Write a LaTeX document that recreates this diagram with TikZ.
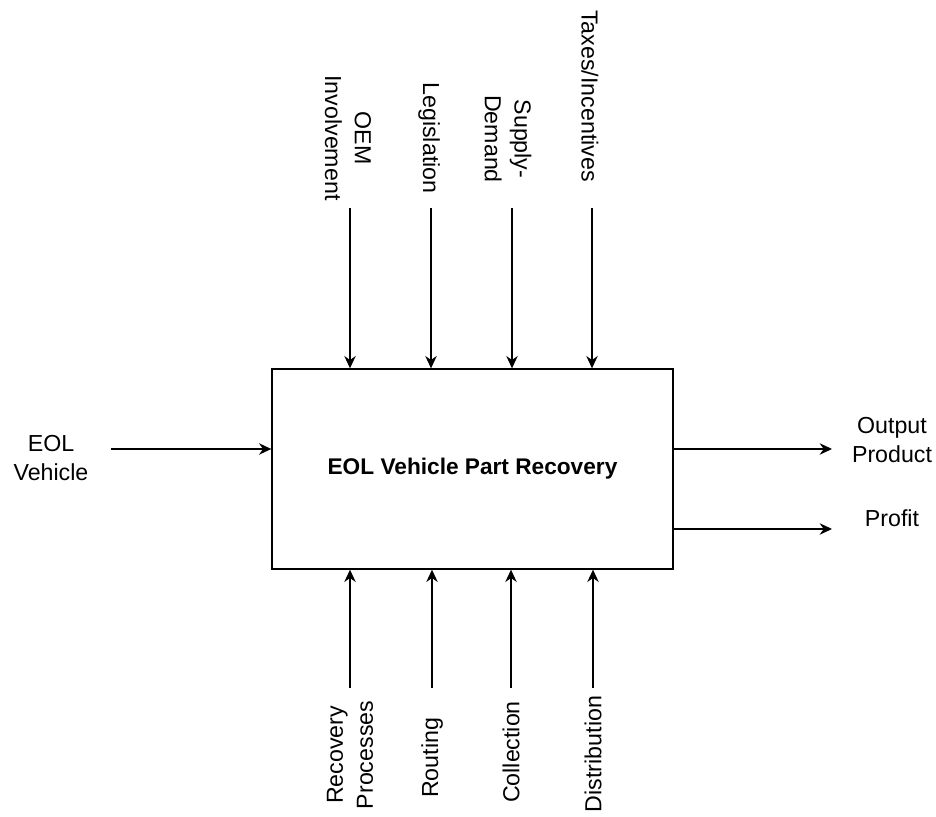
\documentclass[tikz,border=0pt]{standalone}
\usepackage{fontspec}
\setmainfont{Liberation Sans}
\usetikzlibrary{arrows.meta, positioning}
\tikzset{
  func/.style={rectangle, draw, line width=0.8pt,
               minimum width=8.02cm, minimum height=4cm,
               align=center, font=\fontsize{12.9}{15}\selectfont\bfseries},
  lbl/.style={align=center, inner sep=0pt,
              font=\fontsize{13.2}{17}\selectfont},
  ctrl/.style={lbl, rotate=-90},
  mech/.style={lbl, rotate=90},
  arr/.style={-{Stealth[length=7pt, width=6.5pt]}, line width=0.8pt},
}
\begin{document}
\begin{tikzpicture}[x=0.02cm, y=-0.02cm]
  \useasboundingbox (0,0) rectangle (936,817);
  \node[func] (box) at (472.5,469) {EOL Vehicle Part Recovery};

  % controls (top)
  \node[ctrl] (oem)    at (348,138) {OEM\\Involvement};
  \node[ctrl] (legis)  at (429,138) {Legislation};
  \node[ctrl] (supdem) at (508,139) {Supply-\\Demand};
  \node[ctrl] (taxes)  at (590,96)  {Taxes/Incentives};
  \coordinate (t1) at (350,208);
  \coordinate (t2) at (431,208);
  \coordinate (t3) at (512,208);
  \coordinate (t4) at (592,208);
  \draw[arr] (t1) -- (t1 |- box.north);
  \draw[arr] (t2) -- (t2 |- box.north);
  \draw[arr] (t3) -- (t3 |- box.north);
  \draw[arr] (t4) -- (t4 |- box.north);

  % mechanisms (bottom)
  \node[mech] (recov)   at (350,755) {Recovery\\Processes};
  \node[mech] (routing) at (432,758) {Routing};
  \node[mech] (collect) at (511,752) {Collection};
  \node[mech] (distrib) at (593,754) {Distribution};
  \coordinate (b1) at (350,688);
  \coordinate (b2) at (432,688);
  \coordinate (b3) at (511,688);
  \coordinate (b4) at (593,688);
  \draw[arr] (b1) -- (b1 |- box.south);
  \draw[arr] (b2) -- (b2 |- box.south);
  \draw[arr] (b3) -- (b3 |- box.south);
  \draw[arr] (b4) -- (b4 |- box.south);

  % input / outputs
  \node[lbl] (eol)    at (51,458)  {EOL\\Vehicle};
  \node[lbl] (output) at (892,440) {Output\\Product};
  \node[lbl] (profit) at (892,518) {Profit};
  \coordinate (in1) at (111,449);
  \coordinate (o1) at (832,449);
  \coordinate (o2) at (832,529);
  \draw[arr] (in1) -- (in1 -| box.west);
  \draw[arr] (box.east |- o1) -- (o1);
  \draw[arr] (box.east |- o2) -- (o2);
\end{tikzpicture}
\end{document}
